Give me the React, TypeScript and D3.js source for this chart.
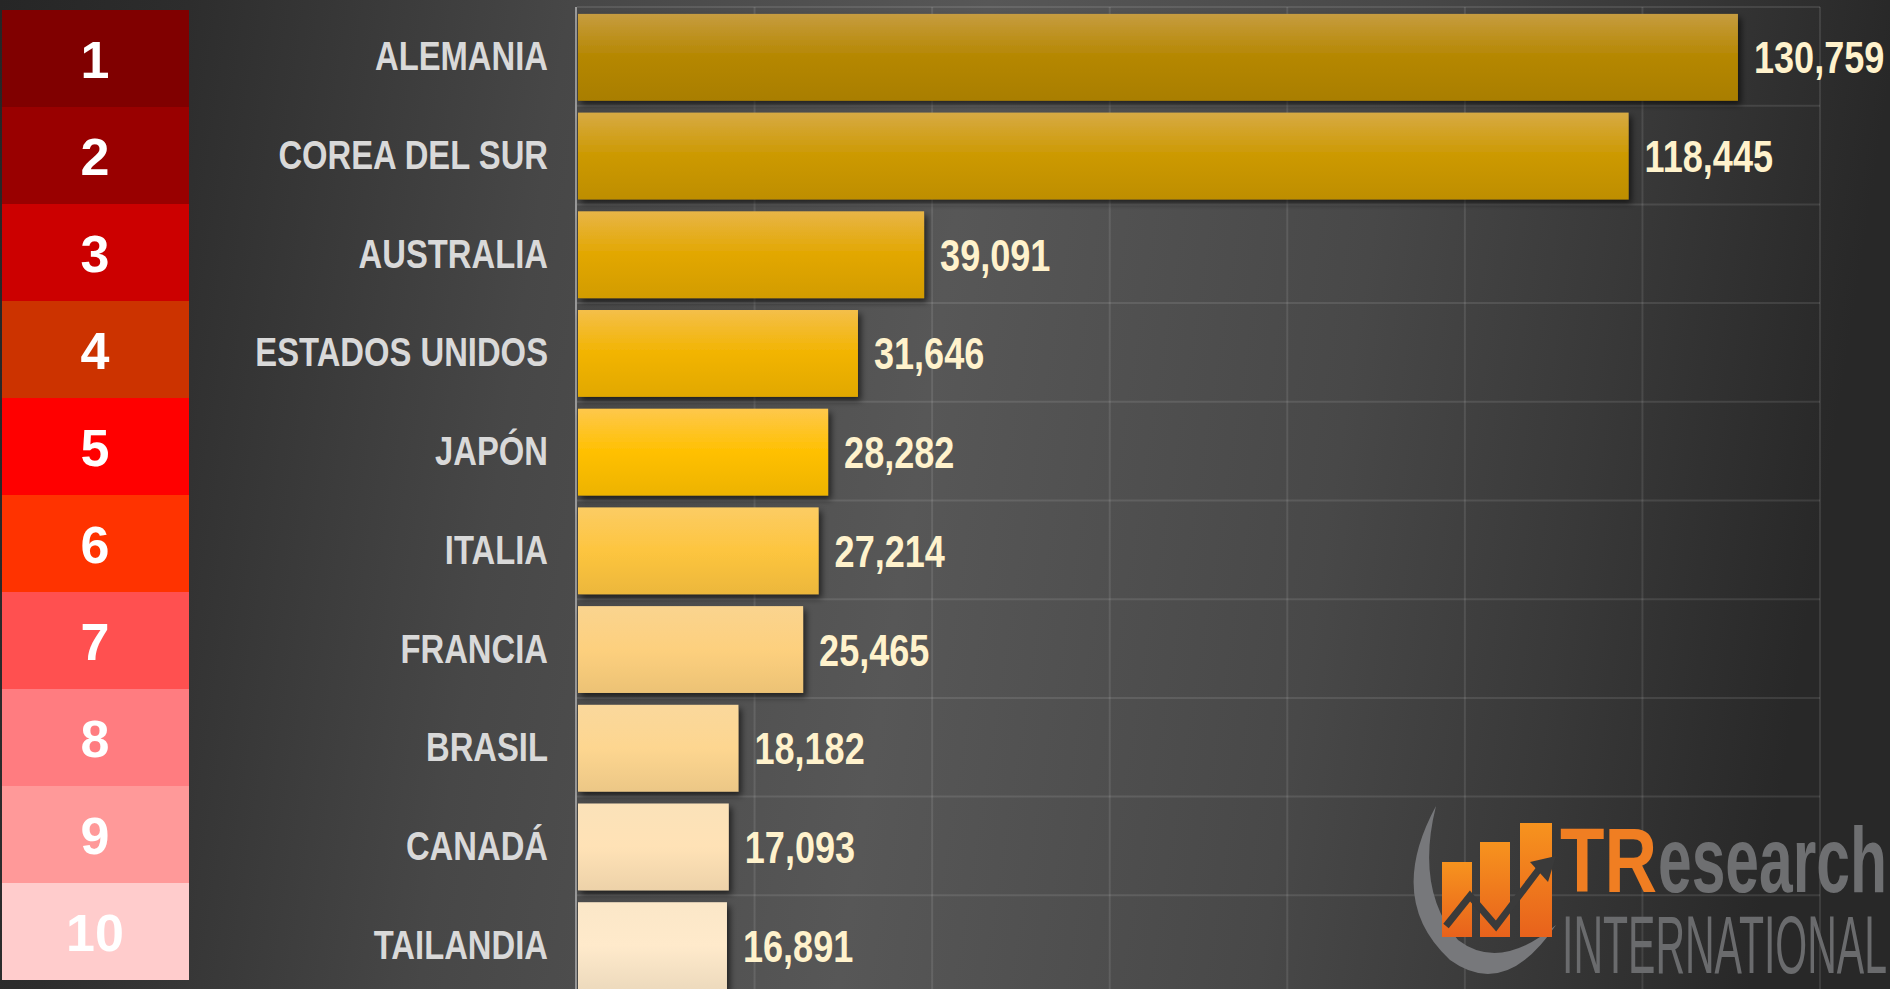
import React from 'react';
import * as d3 from 'd3';

const countries = ['ALEMANIA', 'COREA DEL SUR', 'AUSTRALIA', 'ESTADOS UNIDOS', 'JAPÓN', 'ITALIA', 'FRANCIA', 'BRASIL', 'CANADÁ', 'TAILANDIA'];
const values = [130759, 118445, 39091, 31646, 28282, 27214, 25465, 18182, 17093, 16891];
const ranks = ['1', '2', '3', '4', '5', '6', '7', '8', '9', '10'];
const rankColors = ['#800000', '#990000', '#cc0000', '#cc3300', '#ff0000', '#ff3300', '#ff5050', '#ff7c80', '#ff9999', '#ffcccc'];
const barColors = ['#b58700', '#cc9900', '#e2a700', '#f2b400', '#ffc000', '#fdc53f', '#fdd07e', '#fdd690', '#ffe2b6', '#ffeacb'];
const xTicks = [0, 20000, 40000, 60000, 80000, 100000, 120000, 140000];

const W = 1890;
const H = 989;
const SANS = '"Liberation Sans", Arial, sans-serif';
// no narrow font installed, so squeeze Liberation Sans horizontally
const NARROW = 0.82;

export default function App() {
    const x = d3.scaleLinear().domain([0, 140000]).range([577, 1820]);
    const y = d3.scaleBand<string>().domain(countries).range([7, 994]).padding(0);
    const step = y.step();
    const barTop = (c: string) => (y(c) || 0) + step * 0.07;
    const barH = step * 0.88;
    const fmt = d3.format(',');

    // rank column boxes
    const rankY = d3.scaleBand<string>().domain(ranks).range([10, 980]).padding(0);

    return (
        <svg width={W} height={H} style={{ position: 'absolute', left: 0, top: 0 }}>
            <defs>
                <linearGradient id="bg" x1="0" y1="0" x2="1" y2="0.08">
                    <stop offset="0" stopColor="#262626" />
                    <stop offset="0.1" stopColor="#2d2d2d" />
                    <stop offset="0.3" stopColor="#474747" />
                    <stop offset="0.52" stopColor="#575757" />
                    <stop offset="0.74" stopColor="#484848" />
                    <stop offset="0.87" stopColor="#393939" />
                    <stop offset="1" stopColor="#282828" />
                </linearGradient>
                {barColors.map((c, i) => {
                    const top = d3.interpolateLab(c, '#f0e0c0')(0.25);
                    const bottom = d3.color(c)!.darker(0.2).formatHex();
                    return (
                        <linearGradient key={i} id={`bar${i}`} x1="0" y1="0" x2="0" y2="1">
                            <stop offset="0" stopColor={top} />
                            <stop offset="0.5" stopColor={c} />
                            <stop offset="1" stopColor={bottom} />
                        </linearGradient>
                    );
                })}
                <linearGradient id="logoOrange" x1="0" y1="0" x2="0" y2="1">
                    <stop offset="0" stopColor="#f7931e" />
                    <stop offset="1" stopColor="#e8621c" />
                </linearGradient>
                <filter id="shadow" x="-5%" y="-10%" width="115%" height="140%">
                    <feDropShadow dx="3" dy="4" stdDeviation="3" floodColor="#000" floodOpacity="0.6" />
                </filter>
            </defs>

            <rect x={0} y={0} width={W} height={H} fill="url(#bg)" />

            {/* grid */}
            <g stroke="rgba(255,255,255,0.1)" strokeWidth={2}>
                {xTicks.slice(1).map(t => (
                    <line key={t} x1={x(t)} x2={x(t)} y1={7} y2={H} />
                ))}
                {countries.map(c => (
                    <line key={c} x1={577} x2={1820} y1={y(c)} y2={y(c)} />
                ))}
            </g>
            <line x1={576} x2={576} y1={7} y2={H} stroke="#9a9a9a" strokeWidth={2} />

            {/* rank column */}
            {ranks.map((r, i) => (
                <g key={r}>
                    <rect x={2} y={rankY(r)} width={187} height={rankY.bandwidth()} fill={rankColors[i]} />
                    <text
                        x={95}
                        y={(rankY(r) || 0) + rankY.bandwidth() / 2 + 19}
                        textAnchor="middle"
                        fill="#fff"
                        fontFamily={SANS}
                        fontWeight="bold"
                        fontSize={52}
                    >
                        {r}
                    </text>
                </g>
            ))}

            {/* country labels */}
            {countries.map(c => (
                <text
                    key={c}
                    transform={`translate(548,${(y(c) || 0) + step / 2 + 14}) scale(${NARROW},1)`}
                    textAnchor="end"
                    fill="#d9d9d9"
                    fontFamily={SANS}
                    fontWeight="bold"
                    fontSize={40}
                >
                    {c}
                </text>
            ))}

            {/* logo watermark */}
            <g>
                <path
                    d="M1436 806 Q1385 900 1450 960 Q1505 1000 1556 925 Q1500 972 1458 940 Q1415 890 1436 806 Z"
                    fill="#77787b"
                />
                <rect x={1442} y={862} width={30} height={75} fill="url(#logoOrange)" />
                <rect x={1480} y={842} width={30} height={95} fill="url(#logoOrange)" />
                <rect x={1520} y={823} width={32} height={114} fill="url(#logoOrange)" />
                <polyline
                    points="1446,926 1470,896 1496,926 1540,868"
                    fill="none"
                    stroke="#3a3a3a"
                    strokeWidth={7}
                />
                <path d="M1530 862 L1556 856 L1548 882 Z" fill="#3a3a3a" />
                <text x={1560} y={892} fill="#f07e22" fontFamily={SANS} fontWeight="bold" fontSize={90} textLength={97} lengthAdjust="spacingAndGlyphs">TR</text>
                <text x={1658} y={892} fill="#6e6f71" fontFamily={SANS} fontWeight="bold" fontSize={92} textLength={229} lengthAdjust="spacingAndGlyphs">esearch</text>
                <text x={1562} y={973} fill="#6a6b6d" fontFamily={SANS} fontSize={82} textLength={325} lengthAdjust="spacingAndGlyphs">INTERNATIONAL</text>
            </g>

            {/* bars */}
            {countries.map((c, i) => (
                <rect
                    key={c}
                    x={x(0) + 1}
                    y={barTop(c)}
                    width={x(values[i]) - x(0) - 1}
                    height={barH}
                    fill={`url(#bar${i})`}
                    filter="url(#shadow)"
                />
            ))}

            {/* value labels */}
            {countries.map((c, i) => (
                <text
                    key={c}
                    transform={`translate(${x(values[i]) + 16},${barTop(c) + barH / 2 + 16}) scale(${NARROW},1)`}
                    fill="#fff2cc"
                    fontFamily={SANS}
                    fontWeight="bold"
                    fontSize={44}
                >
                    {fmt(values[i])}
                </text>
            ))}
        </svg>
    );
}
